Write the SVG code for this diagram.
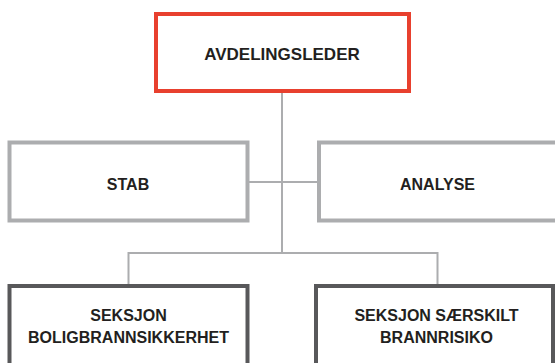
<svg xmlns="http://www.w3.org/2000/svg" width="555" height="363" viewBox="0 0 555 363">
  <style>
    .box { fill: #ffffff; stroke-width: 4; }
    .lead { stroke: #e8402e; }
    .staff { stroke: #acadaf; }
    .unit { stroke: #58585a; }
    .link { fill: none; stroke: #acadaf; stroke-width: 2; }
    .label { font-family: "Liberation Sans", Arial, sans-serif; font-weight: bold; font-size: 16px; fill: #231f20; text-anchor: middle; }
    .head { font-size: 17px; }
  </style>
  <rect width="555" height="363" fill="#ffffff"/>

  <!-- connectors -->
  <g id="connectors">
    <path class="link" d="M282 92 V253"/>
    <path class="link" d="M247 182 H319"/>
    <path class="link" d="M128.5 286 V253 H437.5 V286"/>
  </g>

  <g id="avdelingsleder">
    <rect class="box lead" x="156" y="14" width="253" height="77"/>
    <text class="label head" x="282" y="59.5">AVDELINGSLEDER</text>
  </g>

  <g id="stab">
    <rect class="box staff" x="9.5" y="142.5" width="238" height="78"/>
    <text class="label" x="128" y="189.5">STAB</text>
  </g>

  <g id="analyse">
    <rect class="box staff" x="319" y="142.5" width="250" height="78"/>
    <text class="label" x="437.5" y="189.5">ANALYSE</text>
  </g>

  <g id="boligbrannsikkerhet">
    <rect class="box unit" x="9.5" y="286" width="238" height="100"/>
    <text class="label" x="128.5" y="321">SEKSJON</text>
    <text class="label" x="128.5" y="343">BOLIGBRANNSIKKERHET</text>
  </g>

  <g id="saerskilt-brannrisiko">
    <rect class="box unit" x="316" y="286" width="237" height="100"/>
    <text class="label" x="436.5" y="321">SEKSJON SÆRSKILT</text>
    <text class="label" x="436.5" y="343">BRANNRISIKO</text>
  </g>
</svg>
